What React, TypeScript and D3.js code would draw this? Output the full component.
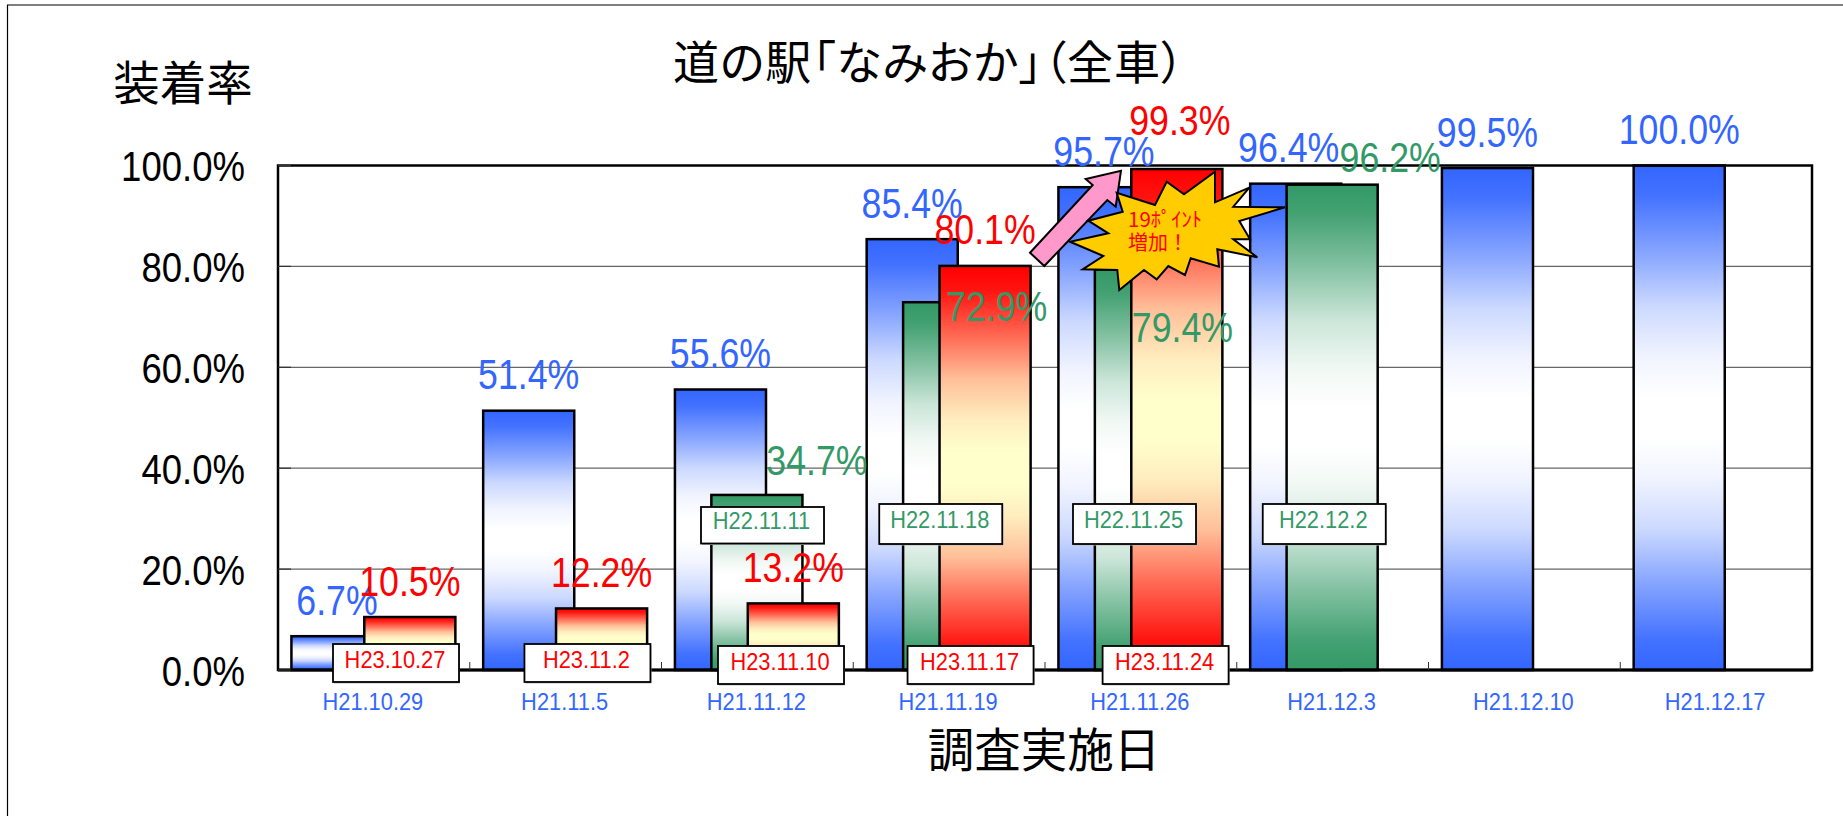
import React, { useRef, useEffect } from 'react'
import * as d3 from 'd3'

const categories = ['H21.10.29', 'H21.11.5', 'H21.11.12', 'H21.11.19', 'H21.11.26', 'H21.12.3', 'H21.12.10', 'H21.12.17']

// 装着率 (%) for each survey round
const blueValues = [6.7, 51.4, 55.6, 85.4, 95.7, 96.4, 99.5, 100.0]
const greenValues = [null, null, 34.7, 72.9, 79.4, 96.2, null, null]
const redValues = [10.5, 12.2, 13.2, 80.1, 99.3, null, null, null]

const greenDates = [null, null, 'H22.11.11', 'H22.11.18', 'H22.11.25', 'H22.12.2', null, null]
const redDates = ['H23.10.27', 'H23.11.2', 'H23.11.10', 'H23.11.17', 'H23.11.24', null, null, null]

const yTicks = [0, 20, 40, 60, 80, 100]

// hand-moved data labels, [dx, dy] from the default spot above the bar
const blueLabelShift = [[0, 0], [0, 0], [0, 0], [0, 0], [0, 0], [-7, 0], [0, 0], [0, 0]]
const greenLabelShift = [null, null, [60, 2], [48, 40], [42, 94], [58, 9], null, null]
const redLabelShift = [[0, 0], [0, 0], [0, 0], [0, 0], [3, -13], null, null, null]

// hand-placed date boxes: [left from band start, top, height]
const greenBoxes = [null, null, [39.5, 507, 36.5], [26, 504, 40], [28, 504, 40], [26, 504, 40], null, null]
const redBoxes = [[55, 644, 38], [54.7, 644, 38], [56.5, 646, 38], [54.3, 646, 38], [57.6, 646, 38], null, null, null]

// callout shapes relative to calloutOrigin
const calloutOrigin = [1020, 150]
const arrowPoints: [number, number][] = [
  [101, 20.7], [95.7, 56.7], [87.3, 50], [24.3, 116], [10, 102.7], [72.7, 35], [65.7, 29],
]
const burstPoints: [number, number][] = [
  [195, 21.7], [195, 52.3], [229.3, 37.7], [213.3, 56.7], [265, 57.3], [219.3, 71], [230, 89.3],
  [213.3, 89.3], [237.3, 107.3], [197.3, 99.3], [199, 116.7], [170.7, 108.3], [165, 125], [148.3, 116],
  [136.7, 129.3], [124, 120], [99.3, 140], [97.3, 120], [62.7, 119.3], [83.3, 106], [50, 91.7],
  [88.3, 83.3], [68.3, 70.7], [102.7, 61.7], [96.7, 42.7], [135, 55], [146.7, 31.7], [164, 44.3],
]

const BLUE = '#3366FF'
const GREEN = '#339966'
const RED = '#FF0000'
const LATIN = '"Liberation Sans", Arial, sans-serif'
const CJK = '"Noto Sans CJK JP", sans-serif'

// bar fill profile: [offset, how far towards the middle colour]
const gradientProfile = [
  [0, 0], [0.06, 0.08], [0.18, 0.43], [0.28, 0.75], [0.38, 0.93], [0.46, 1],
  [0.54, 1], [0.62, 0.93], [0.72, 0.75], [0.82, 0.43], [0.94, 0.08], [1, 0],
]

const WIDTH = 1843
const HEIGHT = 816
const plot = { left: 278, right: 1812, top: 165.5, bottom: 670 }

export default function App() {
  const svgRef = useRef<SVGSVGElement>(null)

  useEffect(() => {
    if (!svgRef.current) return
    const svg = d3.select(svgRef.current)
    svg.selectAll('*').remove()

    const x = d3.scaleBand<string>().domain(categories).range([plot.left, plot.right])
    const y = d3.scaleLinear().domain([0, 100]).range([plot.bottom, plot.top])
    const band = x.bandwidth()
    const barWidth = band * 0.475
    const seriesOffset = (i: number) => band * (0.07 + 0.19 * i)

    // Text with a horizontal squeeze, the source font is narrower than Liberation
    const label = (
      parent: any,
      tx: number,
      ty: number,
      text: string,
      size: number,
      fill: string,
      anchor = 'middle',
      squeeze = 1,
      family = LATIN,
    ) =>
      parent
        .append('text')
        .attr('transform', `translate(${tx},${ty}) scale(${squeeze},1)`)
        .attr('text-anchor', anchor)
        .style('font-family', family)
        .style('font-size', `${size}px`)
        .style('fill', fill)
        .text(text)

    // Gradients, same colour at both ends
    const defs = svg.append('defs')
    const gradient = (id: string, edge: string, mid: string) => {
      const mix = d3.interpolateRgb(edge, mid)
      const g = defs.append('linearGradient').attr('id', id).attr('x1', 0).attr('y1', 0).attr('x2', 0).attr('y2', 1)
      gradientProfile.forEach(([offset, t]) => {
        g.append('stop').attr('offset', offset).attr('stop-color', mix(t))
      })
    }
    gradient('grad-blue', BLUE, '#FFFFFF')
    gradient('grad-green', GREEN, '#FFFFFF')
    gradient('grad-red', RED, '#FFFFCC')

    // Outer frame, only top and left show up
    svg.append('path').attr('d', `M7.5,${HEIGHT}V5H${WIDTH}`).attr('fill', 'none').attr('stroke', '#000').attr('stroke-width', 1.2)

    // Grid
    svg
      .selectAll('.grid')
      .data(yTicks.filter(t => t > 0 && t < 100))
      .enter()
      .append('line')
      .attr('x1', plot.left)
      .attr('x2', plot.right)
      .attr('y1', d => y(d))
      .attr('y2', d => y(d))
      .attr('stroke', '#666')
      .attr('stroke-width', 1.2)

    // Bars
    const series = [
      { values: blueValues, fill: 'url(#grad-blue)' },
      { values: greenValues, fill: 'url(#grad-green)' },
      { values: redValues, fill: 'url(#grad-red)' },
    ]
    series.forEach((s, si) => {
      svg
        .append('g')
        .selectAll('rect')
        .data(s.values.map((v, i) => ({ v, i })).filter(d => d.v !== null))
        .enter()
        .append('rect')
        .attr('x', d => (x(categories[d.i]) || 0) + seriesOffset(si))
        .attr('y', d => y(d.v as number))
        .attr('width', barWidth)
        .attr('height', d => plot.bottom - y(d.v as number))
        .attr('fill', s.fill)
        .attr('stroke', '#000')
        .attr('stroke-width', 2.5)
    })

    // Plot border and ticks
    svg
      .append('rect')
      .attr('x', plot.left)
      .attr('y', plot.top)
      .attr('width', plot.right - plot.left)
      .attr('height', plot.bottom - plot.top)
      .attr('fill', 'none')
      .attr('stroke', '#000')
      .attr('stroke-width', 2.5)
    svg.append('line').attr('x1', plot.left).attr('x2', plot.right).attr('y1', plot.bottom).attr('y2', plot.bottom).attr('stroke', '#000').attr('stroke-width', 3)

    yTicks.forEach(t => {
      svg.append('line').attr('x1', plot.left).attr('x2', plot.left + 13).attr('y1', y(t)).attr('y2', y(t)).attr('stroke', '#333').attr('stroke-width', 1.2)
      label(svg, 245, y(t) + 15.5, `${t.toFixed(1)}%`, 42, '#000', 'end', 0.87)
    })
    categories.forEach((c, i) => {
      const bx = x(c) || 0
      if (i > 0) svg.append('line').attr('x1', bx).attr('x2', bx).attr('y1', plot.bottom).attr('y2', plot.bottom - 8).attr('stroke', '#333').attr('stroke-width', 1)
      label(svg, bx + band / 2 - 1, 710, c, 23, BLUE, 'middle', 0.95)
    })

    // Data labels
    const drawValues = (values: (number | null)[], si: number, shifts: (number[] | null)[], color: string) => {
      values.forEach((v, i) => {
        if (v === null) return
        const shift = shifts[i] || [0, 0]
        const cx = (x(categories[i]) || 0) + seriesOffset(si) + barWidth / 2
        label(svg, cx + shift[0], y(v) - 21.5 + shift[1], `${v.toFixed(1)}%`, 42, color, 'middle', 0.85)
      })
    }
    drawValues(blueValues, 0, blueLabelShift, BLUE)
    drawValues(greenValues, 1, greenLabelShift, GREEN)
    drawValues(redValues, 2, redLabelShift, RED)

    // Date boxes on top of the bars
    const drawBoxes = (dates: (string | null)[], boxes: (number[] | null)[], boxWidth: number, color: string, baseline: number) => {
      dates.forEach((d, i) => {
        const b = boxes[i]
        if (!d || !b) return
        const bx = (x(categories[i]) || 0) + b[0]
        svg.append('rect').attr('x', bx + 1).attr('y', b[1] + 1.5).attr('width', boxWidth).attr('height', b[2]).attr('fill', '#bbb')
        svg.append('rect').attr('x', bx).attr('y', b[1]).attr('width', boxWidth).attr('height', b[2]).attr('fill', '#fff').attr('stroke', '#000').attr('stroke-width', 1.8)
        label(svg, bx + boxWidth / 2 - 1, b[1] + b[2] / 2 + baseline, d, 23, color, 'middle', 0.95)
      })
    }
    drawBoxes(greenDates, greenBoxes, 123, GREEN, 3.5)
    drawBoxes(redDates, redBoxes, 126, RED, 5)

    // Arrow and burst callout
    const callout = svg.append('g').attr('transform', `translate(${calloutOrigin[0]},${calloutOrigin[1]})`)
    const outline = d3.line().curve(d3.curveLinearClosed)
    callout.append('path').attr('d', outline(arrowPoints)).attr('fill', '#FF99CC').attr('stroke', '#000').attr('stroke-width', 2)
    callout.append('path').attr('d', outline(burstPoints)).attr('fill', '#FFCC00').attr('stroke', '#000').attr('stroke-width', 2)
    label(callout, 108, 77, '19ﾎﾟｲﾝﾄ', 20.5, RED, 'start', 1, CJK)
    label(callout, 108, 100, '増加！', 20, RED, 'start', 1, CJK)

    // Titles
    label(svg, 929, 79, '道の駅「なみおか」（全車）', 46, '#000', 'middle', 1, CJK)
      .style('font-feature-settings', '"palt"')
      .style('letter-spacing', '1px')
    label(svg, 183, 100, '装着率', 46.5, '#000', 'middle', 1, CJK)
    label(svg, 1044, 767, '調査実施日', 46.5, '#000', 'middle', 1, CJK)
  }, [])

  return (
    <svg
      ref={svgRef}
      width={WIDTH}
      height={HEIGHT}
      style={{ position: 'absolute', left: 0, top: 0, display: 'block', background: '#fff' }}
    />
  )
}
